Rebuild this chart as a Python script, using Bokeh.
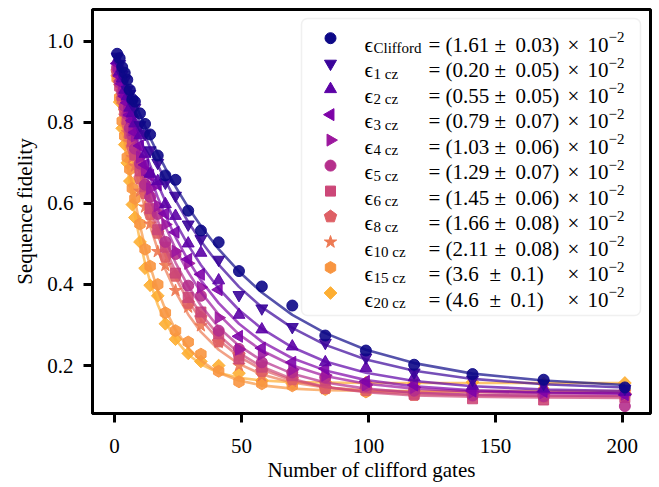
import math
from bokeh.plotting import figure
from bokeh.models import Range1d, BoxAnnotation, FixedTicker, PrintfTickFormatter, Title
from bokeh.embed import file_html
from bokeh.resources import INLINE
from bokeh.core.properties import value

# ---------------- data ----------------
lengths = [1, 2, 3, 4, 5, 6, 7, 8, 10, 12, 14, 17, 20, 24, 29, 34, 41, 49, 58, 70, 83, 99, 118, 141, 169, 201]
series_sub = ["Clifford", "1 cz", "2 cz", "3 cz", "4 cz", "5 cz", "6 cz", "8 cz", "10 cz", "15 cz", "20 cz"]
eps_mant = ["1.61", "0.20", "0.55", "0.79", "1.03", "1.29", "1.45", "1.66", "2.11", "3.6", "4.6"]
eps_err = ["0.03", "0.05", "0.05", "0.07", "0.06", "0.07", "0.06", "0.08", "0.08", "0.1", "0.1"]
x_ticks = [0, 50, 100, 150, 200]
y_ticks = [0.2, 0.4, 0.6, 0.8, 1.0]

# measured sequence fidelities
meas_clifford = [.969, .958, .936, .922, .905, .880, .857, .851, .822, .796, .770, .718, .669, .658, .582, .533, .504, .433, .395, .348, .274, .237, .202, .179, .165, .146]
meas_1cz = [.962, .944, .918, .905, .880, .870, .845, .836, .793, .771, .731, .700, .651, .619, .548, .512, .461, .374, .341, .295, .256, .220, .183, .165, .155, .143]
meas_2cz = [.953, .925, .908, .880, .864, .836, .823, .797, .768, .722, .673, .655, .598, .569, .501, .478, .410, .325, .289, .247, .208, .194, .171, .150, .143, .135]
meas_3cz = [.945, .914, .895, .864, .848, .818, .804, .775, .742, .695, .669, .646, .575, .529, .462, .425, .387, .272, .243, .208, .192, .161, .152, .137, .136, .128]
meas_4cz = [.938, .915, .881, .862, .829, .812, .781, .766, .714, .683, .636, .594, .548, .482, .452, .393, .318, .240, .228, .190, .176, .152, .146, .134, .133, .129]
meas_5cz = [.935, .898, .875, .840, .820, .786, .768, .735, .698, .646, .616, .574, .505, .475, .397, .372, .286, .241, .208, .183, .171, .150, .138, .126, .124, .100]
meas_6cz = [.928, .890, .866, .828, .807, .772, .753, .720, .680, .641, .587, .535, .492, .428, .368, .332, .278, .216, .196, .175, .163, .146, .129, .118, .115, .121]
meas_8cz = [.925, .898, .857, .833, .795, .774, .738, .719, .661, .625, .573, .527, .468, .421, .354, .318, .259, .226, .186, .166, .144, .139, .127, .129, .123, .127]
meas_10cz = [.920, .888, .843, .815, .775, .751, .713, .692, .630, .591, .549, .481, .447, .385, .344, .298, .257, .200, .175, .160, .143, .141, .133, .136, .131, .134]
meas_15cz = [.908, .861, .803, .766, .714, .684, .637, .612, .549, .487, .445, .400, .330, .286, .258, .228, .186, .160, .155, .150, .141, .135, .139, .135, .138, .136]
meas_20cz = [.915, .850, .785, .745, .700, .655, .597, .565, .505, .440, .398, .372, .303, .265, .230, .210, .200, .181, .163, .156, .160, .158, .155, .159, .156, .157]

# fitted decay curves at the same lengths
fit_clifford = [.965, .947, .930, .913, .896, .880, .864, .849, .819, .790, .762, .723, .687, .641, .590, .544, .487, .432, .380, .325, .280, .239, .206, .180, .163, .152]
fit_1cz = [.960, .940, .921, .902, .884, .866, .848, .831, .798, .767, .737, .695, .656, .608, .554, .507, .449, .394, .344, .293, .251, .215, .187, .167, .154, .146]
fit_2cz = [.951, .928, .905, .883, .861, .841, .820, .801, .763, .728, .694, .648, .605, .553, .497, .448, .390, .337, .291, .245, .210, .182, .162, .149, .141, .137]
fit_3cz = [.943, .917, .892, .868, .845, .822, .800, .779, .738, .700, .665, .615, .570, .517, .459, .410, .354, .303, .259, .218, .188, .164, .149, .139, .134, .131]
fit_4cz = [.941, .912, .885, .859, .833, .809, .785, .762, .719, .678, .641, .589, .543, .488, .430, .381, .326, .277, .237, .200, .174, .155, .143, .136, .132, .131]
fit_5cz = [.933, .902, .872, .844, .816, .790, .764, .740, .693, .651, .611, .557, .510, .454, .396, .348, .294, .249, .212, .180, .158, .143, .133, .128, .126, .125]
fit_6cz = [.926, .894, .862, .832, .804, .776, .749, .724, .676, .632, .592, .537, .488, .432, .374, .327, .275, .231, .197, .167, .147, .134, .126, .123, .121, .120]
fit_8cz = [.929, .894, .861, .829, .799, .770, .742, .715, .666, .620, .578, .522, .473, .417, .359, .313, .263, .222, .190, .163, .147, .136, .130, .127, .125, .125]
fit_10cz = [.922, .884, .847, .812, .779, .747, .717, .688, .635, .587, .544, .486, .437, .382, .326, .283, .239, .204, .178, .158, .146, .139, .135, .134, .133, .133]
fit_15cz = [.910, .857, .808, .762, .719, .679, .642, .608, .546, .492, .445, .386, .338, .288, .243, .212, .182, .163, .151, .143, .139, .138, .137, .137, .137, .137]
fit_20cz = [.910, .849, .792, .741, .693, .649, .609, .572, .507, .453, .406, .350, .307, .264, .227, .203, .182, .170, .163, .159, .158, .157, .157, .157, .157, .157]

meas = [meas_clifford, meas_1cz, meas_2cz, meas_3cz, meas_4cz, meas_5cz, meas_6cz,
        meas_8cz, meas_10cz, meas_15cz, meas_20cz]
fits = [fit_clifford, fit_1cz, fit_2cz, fit_3cz, fit_4cz, fit_5cz, fit_6cz,
        fit_8cz, fit_10cz, fit_15cz, fit_20cz]

# ---------------- style ----------------
colors = ["#0d0887", "#3a049a", "#5c01a6", "#7e03a8", "#9c179e", "#b52f8c",
          "#cc4778", "#de5f65", "#ed7953", "#f89540", "#fdae32"]
markers = ["circle", "inverted_triangle", "triangle", "triangle", "triangle", "circle",
           "square", "pentagon", "star", "hex", "square"]
angles = [0, 0, 0, math.pi / 2, -math.pi / 2, 0, 0, 0, 0, math.pi / 6, math.pi / 4]
sizes = [11, 12, 12, 12, 12, 11, 10, 12, 13, 12, 9]
FONT = "Liberation Serif"
W, H = 656, 486
FL, FR, FT, FB = 92, 650, 9, 413          # frame edges on the page (px)
X0, X1 = -8.7, 211.1
Y0, Y1 = 0.0817, 1.0782


def px2x(px):
    return X0 + (px - FL) / (FR - FL) * (X1 - X0)


def py2y(py):
    return Y1 - (py - FT) / (FB - FT) * (Y1 - Y0)


p = figure(width=W, height=H, x_range=Range1d(X0, X1), y_range=Range1d(Y0, Y1),
           output_backend="svg", toolbar_location=None,
           min_border_left=FL, min_border_right=W - FR, min_border_top=FT, min_border_bottom=H - FB)
p.xgrid.visible = False
p.ygrid.visible = False
p.outline_line_color = "black"
p.outline_line_width = 3
p.outline_line_alpha = 1
p.background_fill_color = "white"
p.border_fill_color = "white"

for ax in (p.xaxis[0], p.yaxis[0]):
    ax.axis_line_width = 3
    ax.axis_line_color = "black"
    ax.major_tick_line_width = 3
    ax.major_tick_line_color = "black"
    ax.major_tick_out = 9
    ax.major_tick_in = 0
    ax.minor_tick_line_color = None
    ax.major_label_text_font = FONT
    ax.major_label_text_font_size = "21px"
    ax.major_label_text_color = "black"
    ax.axis_label_text_font = FONT
    ax.axis_label_text_font_size = "21px"
    ax.axis_label_text_font_style = "normal"
    ax.axis_label_text_color = "black"
p.xaxis[0].major_label_standoff = 16
p.yaxis[0].major_label_standoff = 10
p.xaxis[0].ticker = FixedTicker(ticks=x_ticks)
p.yaxis[0].ticker = FixedTicker(ticks=y_ticks)
p.yaxis[0].formatter = PrintfTickFormatter(format="%.1f")
p.yaxis[0].axis_label = "Sequence fidelity"
p.yaxis[0].axis_label_standoff = 7

# x-axis title as a panel below the tick labels
p.add_layout(Title(text="Number of clifford gates", align="center", text_font=FONT,
                   text_font_size="21px", text_font_style="normal", text_color="black",
                   standoff=0, offset=0), "below")


def draw_markers(xs, ys, i, level="glyph", alpha=0.9):
    m = markers[i]
    if m == "pentagon":
        try:
            p.ngon(x=xs, y=ys, radius=6.5, radius_units="screen", n=5,
                   fill_color=colors[i], line_color=colors[i], fill_alpha=alpha, line_alpha=alpha,
                   level=level)
            return
        except Exception:
            m = "hex"
    p.scatter(x=xs, y=ys, marker=m, size=sizes[i], angle=angles[i],
              fill_color=colors[i], line_color=colors[i], fill_alpha=alpha, line_alpha=alpha,
              level=level)


for i in reversed(range(11)):
    draw_markers(lengths, meas[i], i)
    p.line(lengths, fits[i], line_color=colors[i], line_width=2.6, line_alpha=0.7)

# ---------------- legend ----------------
box = BoxAnnotation(left=px2x(301), right=px2x(640), top=py2y(18), bottom=py2y(315),
                    fill_color="white", fill_alpha=0.8, line_color="#cccccc", line_width=1.5,
                    border_radius=6)
p.add_layout(box)

row0, drow = 37.7, 25.48
for i in range(11):
    yc = row0 + i * drow
    draw_markers([px2x(330)], [py2y(yc)], i, level="overlay", alpha=1.0)
    base = py2y(yc + 6.5)
    short = len(eps_mant[i]) < 4
    items = [
        (364, base, "ϵ", "21px"),
        (373, py2y(yc + 10), series_sub[i], "15px"),
        (428, base, "= (" + eps_mant[i], "21px"),
        (489 if short else 494, base, "±", "21px"),
        (510 if short else 515, base, eps_err[i] + ")", "21px"),
        (567, base, "×", "21px"),
        (587, base, "10", "21px"),
        (608, py2y(yc - 1), "−2", "15px"),
    ]
    for (xx, yy, tt, fs) in items:
        p.text(x=[px2x(xx)], y=[yy], text=[tt], text_font=value(FONT), text_font_size=fs,
               text_color="black", text_align="left", text_baseline="alphabetic", level="overlay")

open("out.html", "w").write(file_html(p, INLINE))
